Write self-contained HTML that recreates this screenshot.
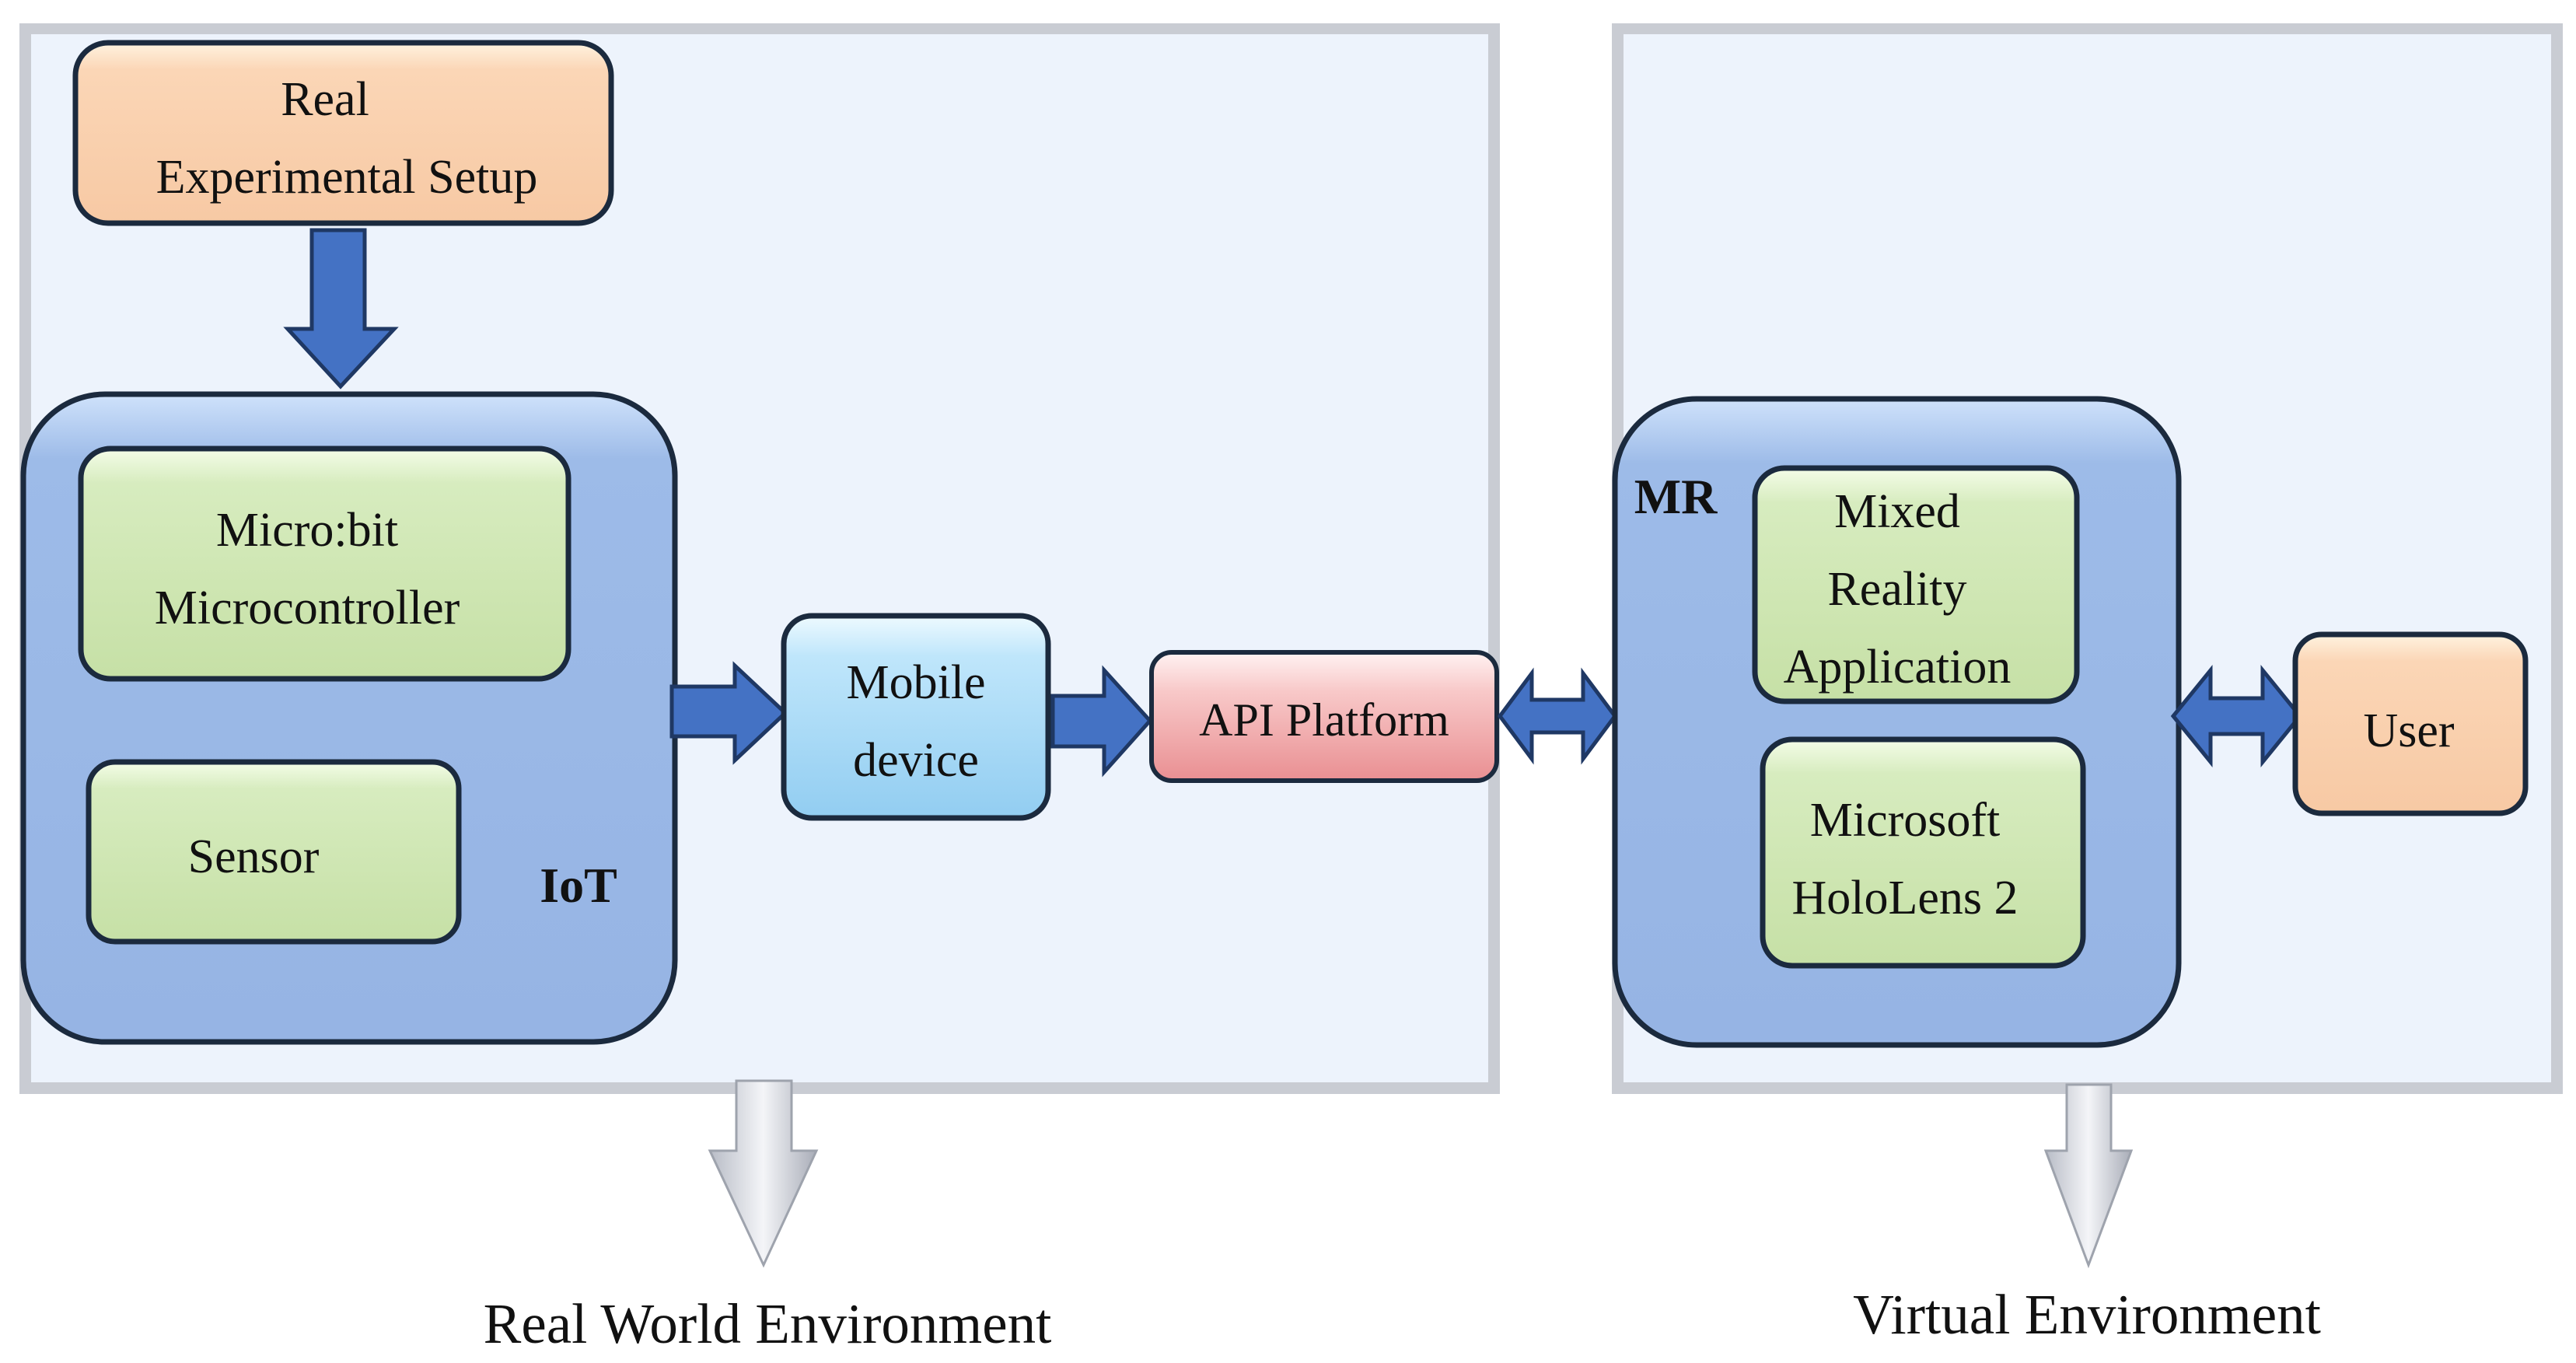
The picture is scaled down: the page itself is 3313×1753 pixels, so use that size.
<!DOCTYPE html>
<html><head><meta charset="utf-8"><style>
html,body{margin:0;padding:0;background:#fff;}
svg{display:block}
text{font-family:"Liberation Serif",serif;fill:#111;}
</style></head><body>
<svg width="3313" height="1753" viewBox="0 0 3313 1753" xmlns="http://www.w3.org/2000/svg">
<defs>
<linearGradient id="peach" x1="0" y1="0" x2="0" y2="1"><stop offset="0" stop-color="#fff3e0"/><stop offset="0.15" stop-color="#fbd6b6"/><stop offset="1" stop-color="#f7c9a4"/></linearGradient>
<linearGradient id="green" x1="0" y1="0" x2="0" y2="1"><stop offset="0" stop-color="#f4fde8"/><stop offset="0.15" stop-color="#d7ecbf"/><stop offset="1" stop-color="#c6e0a6"/></linearGradient>
<linearGradient id="blue" x1="0" y1="0" x2="0" y2="1"><stop offset="0" stop-color="#cfe2fb"/><stop offset="0.1" stop-color="#9dbbe8"/><stop offset="1" stop-color="#96b4e4"/></linearGradient>
<linearGradient id="cyan" x1="0" y1="0" x2="0" y2="1"><stop offset="0" stop-color="#eefaff"/><stop offset="0.2" stop-color="#bfe6fb"/><stop offset="1" stop-color="#92cdf1"/></linearGradient>
<linearGradient id="pink" x1="0" y1="0" x2="0" y2="1"><stop offset="0" stop-color="#fff2f2"/><stop offset="0.3" stop-color="#f8c9c9"/><stop offset="1" stop-color="#e98f92"/></linearGradient>
<linearGradient id="grey" x1="0" y1="0" x2="1" y2="0"><stop offset="0" stop-color="#b8bcc6"/><stop offset="0.5" stop-color="#f4f5f8"/><stop offset="1" stop-color="#a9adb8"/></linearGradient>
</defs>
<rect x="25" y="30" width="1904" height="1377" fill="#c9ccd3"/>
<rect x="40" y="44" width="1874" height="1348" fill="#edf3fc"/>
<rect x="2073" y="30" width="1223" height="1377" fill="#c9ccd3"/>
<rect x="2088" y="44" width="1193" height="1348" fill="#edf3fc"/>

<rect x="97" y="55" width="689" height="232" rx="42" fill="url(#peach)" stroke="#1b2a3e" stroke-width="7"/>
<text x="418" y="148" font-size="62" text-anchor="middle">Real</text>
<text x="446" y="248" font-size="62" text-anchor="middle">Experimental Setup</text>
<polygon points="401,296 469,296 469,423 507,423 438,497 370,423 401,423" fill="#4472c4" stroke="#1f3864" stroke-width="5"/>

<rect x="30" y="507" width="838" height="833" rx="105" fill="url(#blue)" stroke="#1b2a3e" stroke-width="7"/>
<rect x="104" y="577" width="627" height="296" rx="38" fill="url(#green)" stroke="#1b2a3e" stroke-width="7"/>
<text x="395" y="702" font-size="62" text-anchor="middle">Micro:bit</text>
<text x="395" y="802" font-size="62" text-anchor="middle">Microcontroller</text>
<rect x="114" y="980" width="476" height="231" rx="34" fill="url(#green)" stroke="#1b2a3e" stroke-width="7"/>
<text x="326" y="1122" font-size="62" text-anchor="middle">Sensor</text>
<text x="744" y="1160" font-size="64" font-weight="bold" text-anchor="middle">IoT</text>

<polygon points="864,883 945,883 945,856 1010,917 945,978 945,947 864,947" fill="#4472c4" stroke="#1f3864" stroke-width="5"/>
<rect x="1008" y="792" width="340" height="260" rx="36" fill="url(#cyan)" stroke="#1b2a3e" stroke-width="7"/>
<text x="1178" y="898" font-size="62" text-anchor="middle">Mobile</text>
<text x="1178" y="998" font-size="62" text-anchor="middle">device</text>
<polygon points="1354,895 1420,895 1420,862 1479,927 1420,993 1420,960 1354,960" fill="#4472c4" stroke="#1f3864" stroke-width="5"/>
<rect x="1481" y="839" width="444" height="165" rx="26" fill="url(#pink)" stroke="#1b2a3e" stroke-width="6"/>
<text x="1703" y="946" font-size="60" text-anchor="middle">API Platform</text>

<polygon points="1929,921 1970,866 1970,900 2036,900 2036,866 2077,921 2036,976 2036,942 1970,942 1970,976" fill="#4472c4" stroke="#1f3864" stroke-width="5"/>

<rect x="2077" y="513" width="725" height="831" rx="105" fill="url(#blue)" stroke="#1b2a3e" stroke-width="7"/>
<text x="2155" y="660" font-size="64" font-weight="bold" text-anchor="middle">MR</text>
<rect x="2257" y="602" width="414" height="300" rx="38" fill="url(#green)" stroke="#1b2a3e" stroke-width="7"/>
<text x="2440" y="678" font-size="62" text-anchor="middle">Mixed</text>
<text x="2440" y="778" font-size="62" text-anchor="middle">Reality</text>
<text x="2440" y="878" font-size="62" text-anchor="middle">Application</text>
<rect x="2267" y="951" width="412" height="291" rx="38" fill="url(#green)" stroke="#1b2a3e" stroke-width="7"/>
<text x="2450" y="1075" font-size="62" text-anchor="middle">Microsoft</text>
<text x="2450" y="1175" font-size="62" text-anchor="middle">HoloLens 2</text>

<polygon points="2795,921 2843,862 2843,898 2910,898 2910,862 2958,921 2910,980 2910,944 2843,944 2843,980" fill="#4472c4" stroke="#1f3864" stroke-width="5"/>
<rect x="2952" y="816" width="296" height="230" rx="34" fill="url(#peach)" stroke="#1b2a3e" stroke-width="7"/>
<text x="3098" y="960" font-size="62" text-anchor="middle">User</text>

<polygon points="947,1390 1018,1390 1018,1480 1050,1480 982,1627 913,1480 947,1480" fill="url(#grey)" stroke="#9ea3ad" stroke-width="3"/>
<polygon points="2658,1395 2715,1395 2715,1480 2741,1480 2686,1627 2631,1480 2658,1480" fill="url(#grey)" stroke="#9ea3ad" stroke-width="3"/>

<text x="987" y="1727" font-size="73" text-anchor="middle">Real World Environment</text>
<text x="2684" y="1715" font-size="73" text-anchor="middle">Virtual Environment</text>
</svg>
</body></html>
